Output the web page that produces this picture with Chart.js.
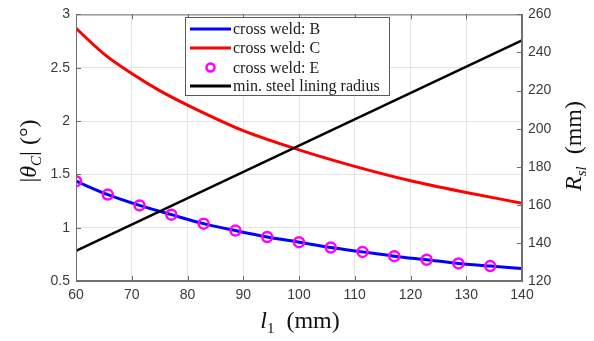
<!DOCTYPE html>
<html>
<head>
<meta charset="utf-8">
<script src="https://cdn.jsdelivr.net/npm/chart.js@4/dist/chart.umd.min.js"></script>
<style>
  html, body { margin: 0; padding: 0; background: #fff; }
  #wrap { width: 594px; height: 341px; }
</style>
</head>
<body>
<div id="wrap"><canvas id="c" width="594" height="341"></canvas></div>
<script>
// ---- data ----
const xB = [60, 65.7, 71.4, 77.1, 82.9, 88.6, 94.3, 100, 105.7, 111.4, 117.1, 122.9, 128.6, 134.3, 140];
const crossWeldB = [1.436, 1.31, 1.209, 1.122, 1.038, 0.973, 0.913, 0.864, 0.814, 0.773, 0.733, 0.699, 0.665, 0.64, 0.618];
const xE = [60, 65.7, 71.4, 77.1, 82.9, 88.6, 94.3, 100, 105.7, 111.4, 117.1, 122.9, 128.6, 134.3];
const crossWeldE = [1.436, 1.31, 1.209, 1.122, 1.038, 0.973, 0.913, 0.864, 0.814, 0.773, 0.733, 0.699, 0.665, 0.64];
const xC = [60, 65, 70, 75, 80, 90, 100, 110, 120, 130, 140];
const crossWeldC = [2.87, 2.63, 2.445, 2.285, 2.15, 1.91, 1.73, 1.575, 1.44, 1.33, 1.23];
const xR = [60, 140];
const minLiningRadius = [135.8, 246.3];
const xTicks = [60, 70, 80, 90, 100, 110, 120, 130, 140];
const leftTicks = [0.5, 1, 1.5, 2, 2.5, 3];
const rightTicks = [120, 140, 160, 180, 200, 220, 240, 260];
const labels = ['cross weld: B', 'cross weld: C', 'cross weld: E', 'min. steel lining radius'];

const pts = (xs, ys) => xs.map((x, i) => ({ x: x, y: ys[i] }));

const TICK_FONT = { family: '"Liberation Sans", Arial, sans-serif', size: 14 };
const TICK_COLOR = '#3a3a3a';
const AXIS_COLOR = '#6e6e6e';
const GRID_COLOR = '#e4e4e4';

const decorPlugin = {
  id: 'decor',
  afterDatasetsDraw(chart) {
    const ctx = chart.ctx;
    const a = chart.chartArea;
    ctx.save();
    // box around plot
    ctx.strokeStyle = AXIS_COLOR;
    ctx.lineWidth = 1;
    ctx.strokeRect(a.left + 0.5, a.top + 0.5, a.right - a.left - 1, a.bottom - a.top - 1);

    // inward tick marks
    const xs = chart.scales.x, yl = chart.scales.y, yr = chart.scales.y1;
    ctx.beginPath();
    xTicks.forEach(v => {
      const px = Math.round(xs.getPixelForValue(v)) + 0.5;
      ctx.moveTo(px, a.bottom); ctx.lineTo(px, a.bottom - 5);
      ctx.moveTo(px, a.top); ctx.lineTo(px, a.top + 5);
    });
    leftTicks.forEach(v => {
      const py = Math.round(yl.getPixelForValue(v)) + 0.5;
      ctx.moveTo(a.left, py); ctx.lineTo(a.left + 5, py);
    });
    rightTicks.forEach(v => {
      const py = Math.round(yr.getPixelForValue(v)) + 0.5;
      ctx.moveTo(a.right, py); ctx.lineTo(a.right - 5, py);
    });
    ctx.stroke();

    // legend
    const ds = chart.data.datasets;
    const lx = 185.5, ly = 17.5, lw = 204, lh = 78;
    ctx.fillStyle = '#ffffff';
    ctx.fillRect(lx, ly, lw, lh);
    ctx.strokeStyle = '#5a5a5a';
    ctx.lineWidth = 1;
    ctx.strokeRect(lx, ly, lw, lh);
    const rows = [29, 48, 67.5, 86];
    ctx.font = '16px "Liberation Serif", "Times New Roman", serif';
    ctx.textBaseline = 'middle';
    ds.forEach((d, i) => {
      const y = rows[i];
      if (d.showLine === false) {
        ctx.beginPath();
        ctx.strokeStyle = d.pointBorderColor;
        ctx.lineWidth = 2.5;
        ctx.arc(210.5, y, 4, 0, Math.PI * 2);
        ctx.stroke();
      } else {
        ctx.beginPath();
        ctx.strokeStyle = d.borderColor;
        ctx.lineWidth = 3;
        ctx.moveTo(190, y); ctx.lineTo(231, y);
        ctx.stroke();
      }
      ctx.fillStyle = '#1a1a1a';
      ctx.textAlign = 'left';
      ctx.fillText(d.label, 233, y + 1);
    });

    // axis titles
    const serif = '"Liberation Serif", "Times New Roman", serif';
    function drawPieces(pieces) {
      let total = 0;
      pieces.forEach(p => { ctx.font = p[1]; total += ctx.measureText(p[0]).width; });
      let x = -total / 2;
      pieces.forEach(p => {
        ctx.font = p[1];
        ctx.fillText(p[0], x, p[2]);
        x += ctx.measureText(p[0]).width;
      });
    }
    ctx.fillStyle = '#111';
    ctx.textAlign = 'left';
    ctx.textBaseline = 'alphabetic';

    // left title |θC| (°)
    ctx.save();
    ctx.translate(36, 151);
    ctx.rotate(-Math.PI / 2);
    drawPieces([
      ['|', '24px ' + serif, 0],
      ['θ', 'italic 24px ' + serif, 0],
      ['C', 'italic 15px ' + serif, 5],
      ['|', '24px ' + serif, 0],
      [' (°)', '24px ' + serif, 0]
    ]);
    ctx.restore();

    // right title R_sl (mm)
    ctx.save();
    ctx.translate(581, 146);
    ctx.rotate(-Math.PI / 2);
    drawPieces([
      ['R', 'italic 24px ' + serif, 0],
      ['sl', 'italic 15px ' + serif, 5],
      ['  (mm)', '24px ' + serif, 0]
    ]);
    ctx.restore();

    // x title l1 (mm)
    ctx.save();
    ctx.translate(300, 328);
    drawPieces([
      ['l', 'italic 24px ' + serif, 0],
      ['1', '15px ' + serif, 5],
      ['  (mm)', '24px ' + serif, 0]
    ]);
    ctx.restore();

    ctx.restore();
  }
};

new Chart(document.getElementById('c'), {
  type: 'line',
  data: {
    datasets: [
      {
        label: labels[0], data: pts(xB, crossWeldB), yAxisID: 'y',
        borderColor: '#0000ff', borderWidth: 3, pointRadius: 0,
        cubicInterpolationMode: 'monotone', order: 3
      },
      {
        label: labels[1], data: pts(xC, crossWeldC), yAxisID: 'y',
        borderColor: '#ff0000', borderWidth: 3, pointRadius: 0,
        cubicInterpolationMode: 'monotone', order: 2
      },
      {
        label: labels[2], data: pts(xE, crossWeldE), yAxisID: 'y',
        showLine: false, pointRadius: 5, pointBorderWidth: 2.5,
        pointBorderColor: '#ff00ff', pointBackgroundColor: 'rgba(0,0,0,0)',
        borderColor: '#ff00ff', order: 0
      },
      {
        label: labels[3], data: pts(xR, minLiningRadius), yAxisID: 'y1',
        borderColor: '#000000', borderWidth: 2.5, pointRadius: 0, order: 1
      }
    ]
  },
  options: {
    responsive: false,
    animation: false,
    devicePixelRatio: 1,
    layout: { padding: { top: 13, bottom: 0, left: 0, right: 0 } },
    plugins: { legend: { display: false }, tooltip: { enabled: false } },
    scales: {
      x: {
        type: 'linear', min: 60, max: 140,
        afterBuildTicks: s => { s.ticks = xTicks.map(v => ({ value: v })); },
        afterFit: s => { s.height = 60; },
        ticks: { font: TICK_FONT, color: TICK_COLOR, padding: 6, maxRotation: 0, callback: v => String(v) },
        grid: { color: GRID_COLOR, drawTicks: false },
        border: { color: AXIS_COLOR }
      },
      y: {
        type: 'linear', position: 'left', min: 0.5, max: 3,
        afterBuildTicks: s => { s.ticks = leftTicks.map(v => ({ value: v })); },
        afterFit: s => { s.width = 76; },
        ticks: { font: TICK_FONT, color: TICK_COLOR, padding: 6, callback: v => String(v) },
        grid: { color: GRID_COLOR, drawTicks: false },
        border: { color: AXIS_COLOR }
      },
      y1: {
        type: 'linear', position: 'right', min: 120, max: 260,
        afterBuildTicks: s => { s.ticks = rightTicks.map(v => ({ value: v })); },
        afterFit: s => { s.width = 72; },
        ticks: { font: TICK_FONT, color: TICK_COLOR, padding: 6, callback: v => String(v) },
        grid: { display: false, drawTicks: false },
        border: { color: AXIS_COLOR }
      }
    }
  },
  plugins: [decorPlugin]
});
</script>
</body>
</html>
